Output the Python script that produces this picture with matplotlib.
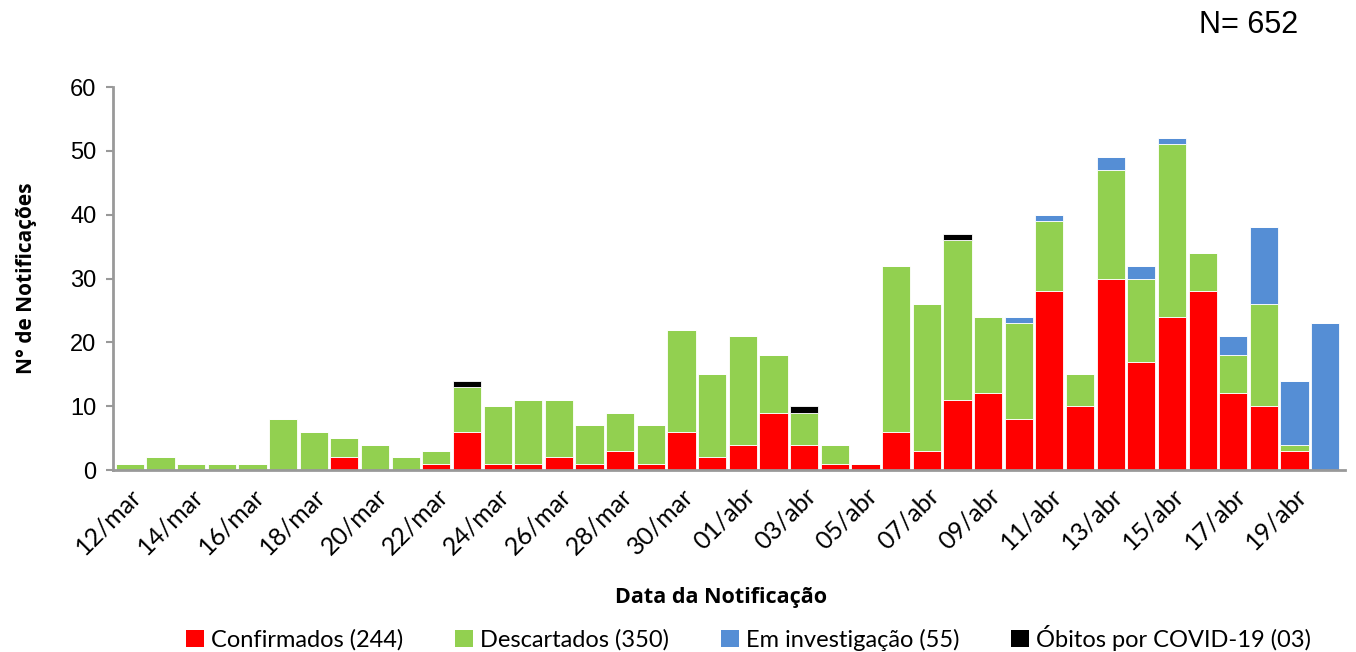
import numpy as np
import matplotlib
matplotlib.use("Agg")
import matplotlib.pyplot as plt
from matplotlib.patches import Patch

# %%
# Data (12/mar to 20/abr)
dias = [f"{d:02d}/mar" for d in range(12, 32)] + [f"{d:02d}/abr" for d in range(1, 21)]

confirmados = [0, 0, 0, 0, 0, 0, 0, 2, 0, 0,
               1, 6, 1, 1, 2, 1, 3, 1, 6, 2,
               4, 9, 4, 1, 1, 6, 3, 11, 12, 8,
               28, 10, 30, 17, 24, 28, 12, 10, 3, 0]
descartados = [1, 2, 1, 1, 1, 8, 6, 3, 4, 2,
               2, 7, 9, 10, 9, 6, 6, 6, 16, 13,
               17, 9, 5, 3, 0, 26, 23, 25, 12, 15,
               11, 5, 17, 13, 27, 6, 6, 16, 1, 0]
investigacao = [0, 0, 0, 0, 0, 0, 0, 0, 0, 0,
                0, 0, 0, 0, 0, 0, 0, 0, 0, 0,
                0, 0, 0, 0, 0, 0, 0, 0, 0, 1,
                1, 0, 2, 2, 1, 0, 3, 12, 10, 23]
obitos = [0, 0, 0, 0, 0, 0, 0, 0, 0, 0,
          0, 1, 0, 0, 0, 0, 0, 0, 0, 0,
          0, 0, 1, 0, 0, 0, 0, 1, 0, 0,
          0, 0, 0, 0, 0, 0, 0, 0, 0, 0]

legend_labels = ["Confirmados (244)", "Descartados (350)",
                 "Em investigação (55)", "Óbitos por COVID-19 (03)"]
colors = ["#ff0000", "#92d050", "#558ed5", "#000000"]

# %%
x = np.arange(len(dias))
series = [confirmados, descartados, investigacao, obitos]

fig = plt.figure(figsize=(13.56, 6.52), dpi=100)
ax = fig.add_axes([0.0833, 0.279, 0.9087, 0.5875])

bottom = np.zeros(len(dias))
for vals, col in zip(series, colors):
    vals = np.asarray(vals, dtype=float)
    ax.bar(x, vals, bottom=bottom, width=0.92, color=col,
           edgecolor="white", linewidth=0.6)
    bottom += vals

ax.set_xlim(-0.55, 39.65)
ax.set_ylim(0, 60)
ax.set_yticks(range(0, 61, 10))
ax.tick_params(axis="y", labelsize=17, length=5, color="#999999", width=1.5, pad=7)
for lbl in ax.get_yticklabels():
    lbl.set_family("Liberation Sans")

ax.set_xticks(x[::2])
ax.set_xticklabels(dias[::2], rotation=45, ha="right", rotation_mode="anchor",
                   fontsize=18, family="Lato")
ax.tick_params(axis="x", length=0, pad=10)

for side in ["top", "right"]:
    ax.spines[side].set_visible(False)
for side in ["left", "bottom"]:
    ax.spines[side].set_color("#999999")
    ax.spines[side].set_linewidth(2)

ax.set_ylabel("N° de Notificações", fontsize=15, fontweight="bold",
              family="Open Sans", labelpad=24)
fig.text(0.532, 0.083, "Data da Notificação", fontsize=15.5, fontweight="bold",
         family="Open Sans", ha="center", va="center")

# N total in the top right corner
fig.text(0.957, 0.962, "N= 652", fontsize=22, family="Liberation Sans",
         ha="right", va="center")

handles = [Patch(facecolor=c, edgecolor="none") for c in colors]
fig.legend(handles, legend_labels, loc="center", bbox_to_anchor=(0.552, 0.022),
           ncol=4, frameon=False, handlelength=0.75,
           handleheight=0.75, handletextpad=0.3, columnspacing=2.2,
           prop={"family": "Lato", "size": 17})

fig.savefig("out.png", dpi=100)
